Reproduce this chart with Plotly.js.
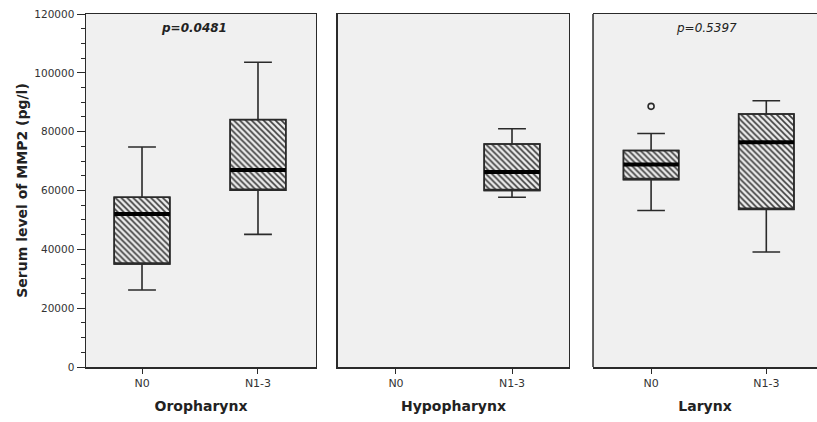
<!DOCTYPE html>
<html><head><meta charset="utf-8">
<script src="https://cdn.plot.ly/plotly-3.0.1.min.js"></script>
<style>html,body{margin:0;padding:0;background:#fff;}#chart{width:817px;height:422px;}</style>
</head><body><div id="chart"></div>
<script>
// ---- data ----
const categories = ['N0', 'N1-3'];
const sites = ['Oropharynx', 'Hypopharynx', 'Larynx'];
const pValues = ['<b><i>p=0.0481</i></b>', '', '<i>p=0.5397</i>'];

const oroX = ['N0', 'N1-3'];
const oroLower = [26200, 45100];
const oroQ1 = [35000, 60100];
const oroMedian = [52000, 67000];
const oroQ3 = [57700, 84100];
const oroUpper = [74800, 103600];

const hypoX = ['N1-3'];
const hypoLower = [57700];
const hypoQ1 = [60000];
const hypoMedian = [66300];
const hypoQ3 = [75800];
const hypoUpper = [81000];

const larX = ['N0', 'N1-3'];
const larLower = [53200, 39100];
const larQ1 = [63700, 53600];
const larMedian = [68800, 76400];
const larQ3 = [73600, 86000];
const larUpper = [79400, 90500];

const larOutlierX = ['N0'];
const larOutlierY = [88600];

// ---- build ----
const panels = [
  {x: oroX, lo: oroLower, q1: oroQ1, med: oroMedian, q3: oroQ3, hi: oroUpper, ox: [], oy: []},
  {x: hypoX, lo: hypoLower, q1: hypoQ1, med: hypoMedian, q3: hypoQ3, hi: hypoUpper, ox: [], oy: []},
  {x: larX, lo: larLower, q1: larQ1, med: larMedian, q3: larQ3, hi: larUpper, ox: larOutlierX, oy: larOutlierY}
];

const FONT = 'DejaVu Sans, Arial, sans-serif';
const LINE = '#2a2a2a';
const BW = 0.48;
const traces = [];
panels.forEach((p, i) => {
  const xa = i === 0 ? 'x' : 'x' + (i + 1);
  const ya = i === 0 ? 'y' : 'y' + (i + 1);
  traces.push({
    type: 'bar', x: p.x, base: p.q1, y: p.q3.map((v, k) => v - p.q1[k]),
    width: BW, xaxis: xa, yaxis: ya, showlegend: false, hoverinfo: 'skip',
    marker: {color: '#e8e8e8', line: {color: LINE, width: 1.4},
      pattern: {shape: '\\', fgcolor: '#3c3c3c', bgcolor: '#ececec', size: 4.2, solidity: 0.38}}
  });
  traces.push({
    type: 'box', x: p.x, q1: p.q1, median: p.q1, q3: p.q3,
    lowerfence: p.lo, upperfence: p.hi, width: BW, whiskerwidth: 0.5,
    boxpoints: false, fillcolor: 'rgba(0,0,0,0)', line: {color: LINE, width: 1.6},
    xaxis: xa, yaxis: ya, showlegend: false, hoverinfo: 'skip'
  });
  traces.push({
    type: 'box', x: p.x, q1: p.med, median: p.med, q3: p.med,
    lowerfence: p.med, upperfence: p.med, width: BW, whiskerwidth: 0,
    boxpoints: false, fillcolor: 'rgba(0,0,0,0)', line: {color: '#000', width: 4},
    xaxis: xa, yaxis: ya, showlegend: false, hoverinfo: 'skip'
  });
  if (p.ox.length) {
    traces.push({
      type: 'scatter', mode: 'markers', x: p.ox, y: p.oy, xaxis: xa, yaxis: ya,
      marker: {symbol: 'circle-open', size: 6, color: LINE, line: {width: 1.6, color: LINE}},
      showlegend: false, hoverinfo: 'skip'
    });
  }
});

const domains = [[0, 0.3146], [0.3447, 0.6607], [0.6936, 1]];
const ranges = [[-0.483, 1.5], [-0.5, 1.491], [-0.504, 1.44]];
const layout = {
  width: 817, height: 422,
  margin: {l: 86, r: 0, t: 14, b: 55},
  paper_bgcolor: '#ffffff', plot_bgcolor: '#f0f0f0',
  font: {family: FONT, color: '#333'},
  barmode: 'overlay', boxmode: 'overlay',
  annotations: [], shapes: [], showlegend: false
};
sites.forEach((s, i) => {
  const sx = i === 0 ? '' : String(i + 1);
  layout['xaxis' + sx] = {
    domain: domains[i], type: 'category', categoryarray: categories, categoryorder: 'array',
    range: ranges[i], showgrid: false, zeroline: false,
    showline: true, mirror: true, linecolor: LINE, linewidth: 1.5,
    ticks: 'outside', ticklen: 5, tickwidth: 1, tickcolor: LINE,
    tickfont: {family: FONT, size: 11, color: '#333'},
    title: {text: '<b>' + s + '</b>', font: {family: FONT, size: 14, color: '#222'}, standoff: 12},
    anchor: 'y' + sx, fixedrange: true
  };
  const ya = {
    domain: [0, 1], range: [0, 120000], anchor: 'x' + sx,
    showgrid: false, zeroline: false,
    showline: i < 2, mirror: i < 2, linecolor: LINE, linewidth: 1.5, fixedrange: true
  };
  if (i === 0) {
    Object.assign(ya, {
      dtick: 20000, tick0: 0, tickformat: 'd', ticks: 'outside', ticklen: 8, tickwidth: 1, tickcolor: LINE,
      tickfont: {family: FONT, size: 10.5, color: '#333'},
      minor: {dtick: 5000, ticks: 'outside', ticklen: 4, tickwidth: 1, tickcolor: LINE, showgrid: false},
      title: {text: '<b>Serum level of MMP2 (pg/l)</b>', font: {family: FONT, size: 14, color: '#222'}, standoff: 3}
    });
  } else {
    Object.assign(ya, {matches: 'y', showticklabels: false, ticks: ''});
  }
  layout['yaxis' + sx] = ya;
  if (i === 2) {
    // left border only; the panel continues past the right edge of the image
    layout.shapes.push({type: 'line', xref: 'x3 domain', yref: 'y3 domain', x0: 0, x1: 0, y0: 0, y1: 1,
      line: {color: LINE, width: 1.5}});
  }
  if (pValues[i]) {
    layout.annotations.push({
      xref: 'x' + sx, yref: 'y' + sx + ' domain', x: i === 0 ? 0.45 : 0.48, y: 0.96,
      text: pValues[i], showarrow: false, xanchor: 'center', yanchor: 'middle',
      font: {family: FONT, size: 12, color: '#222'}
    });
  }
});

Plotly.newPlot('chart', traces, layout, {staticPlot: true, displayModeBar: false});
</script>
</body></html>
